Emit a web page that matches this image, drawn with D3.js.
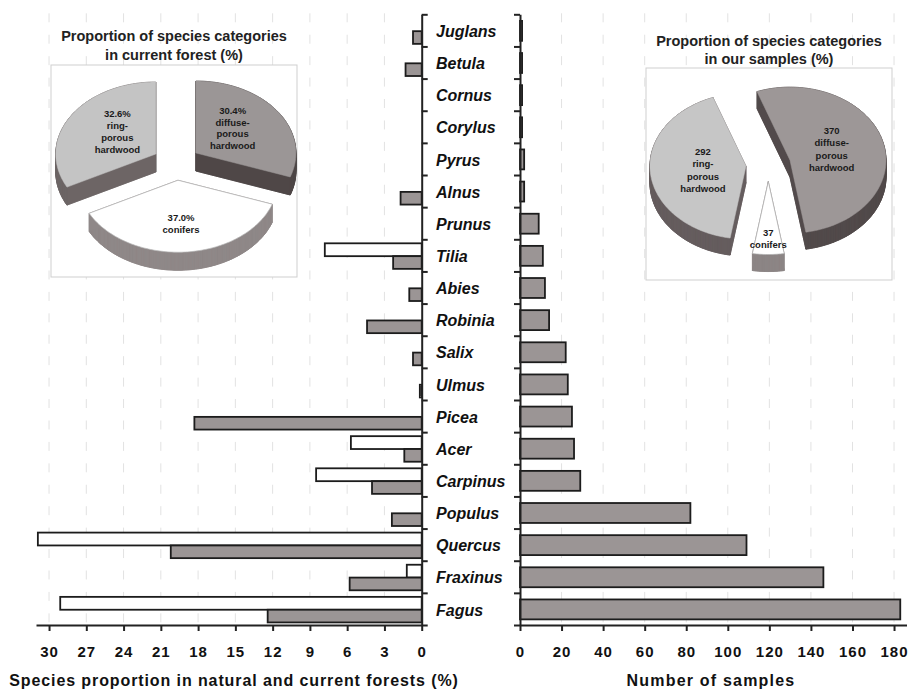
<!DOCTYPE html>
<html>
<head>
<meta charset="utf-8">
<script src="https://cdn.jsdelivr.net/npm/d3@7"></script>
<style>
  body { margin: 0; background: #fff; }
  svg text { font-family: "Liberation Sans", Arial, sans-serif; }
</style>
</head>
<body>
<svg id="chart" width="908" height="691"></svg>
<script>
// species, top to bottom
const species = ["Juglans","Betula","Cornus","Corylus","Pyrus","Alnus","Prunus","Tilia","Abies","Robinia",
  "Salix","Ulmus","Picea","Acer","Carpinus","Populus","Quercus","Fraxinus","Fagus"];
// % in natural forest (white) and current forest (grey)
const naturalForest = [0,0,0,0,0,0,0,7.8,0,0,0,0,0,5.7,8.5,0,30.9,1.2,29.1];
const currentForest = [0.7,1.3,0,0,0,1.7,0,2.3,1.0,4.4,0.7,0.15,18.3,1.4,4.0,2.4,20.2,5.8,12.4];
// number of samples
const samples = [1,1,1,1,2,2,9,11,12,14,22,23,25,26,29,82,109,146,183];

const leftTicks = [30,27,24,21,18,15,12,9,6,3,0];
const rightTicks = [0,20,40,60,80,100,120,140,160,180];

// pie categories (clockwise from 12 o'clock)
const pieLines = [["diffuse-","porous","hardwood"],["conifers"],["ring-","porous","hardwood"]];
const forestShare = [30.4, 37.0, 32.6];
const sampleCounts = [370, 37, 292];

const svg = d3.select('#chart');

const yTop = 14.3, yBottom = 625;
const y = d3.scaleBand().domain(species).range([yTop, yBottom]);
const yIdx = d3.scaleLinear().domain([0, species.length]).range([yTop, yBottom]);
const xL = d3.scaleLinear().domain([0, 31.05]).range([421.7, 36]);
const xR = d3.scaleLinear().domain([0, 186]).range([520, 906.5]);

const rows = species.map((s,i) => ({s, nat: naturalForest[i], cur: currentForest[i], n: samples[i]}));

// faint dashed grid
const grid = svg.append('g')
  .attr('stroke', '#e2e2e2')
  .attr('stroke-width', 1)
  .attr('stroke-dasharray', '9,12.43');

grid.selectAll('.gl')
  .data(leftTicks.filter(t => t > 0))
  .join('line')
  .attr('x1', d => xL(d)).attr('x2', d => xL(d))
  .attr('y1', yTop - 1).attr('y2', yBottom);

grid.selectAll('.gr')
  .data(rightTicks.filter(t => t > 0))
  .join('line')
  .attr('x1', d => xR(d)).attr('x2', d => xR(d))
  .attr('y1', yTop - 1).attr('y2', yBottom);

const step = y.step();
const barStroke = '#1c1c1c';
const grey = '#9b9595';

// left bars
svg.append('g').selectAll('rect')
  .data(rows.filter(d => d.nat > 0))
  .join('rect')
  .attr('x', d => xL(d.nat))
  .attr('y', d => y(d.s) + step * 0.125)
  .attr('width', d => xL(0) - xL(d.nat))
  .attr('height', step * 0.4)
  .attr('fill', '#fff')
  .attr('stroke', barStroke)
  .attr('stroke-width', 1.8);

svg.append('g').selectAll('rect')
  .data(rows.filter(d => d.cur > 0))
  .join('rect')
  .attr('x', d => xL(d.cur))
  .attr('y', d => y(d.s) + step * 0.525)
  .attr('width', d => xL(0) - xL(d.cur))
  .attr('height', step * 0.395)
  .attr('fill', grey)
  .attr('stroke', barStroke)
  .attr('stroke-width', 1.8);

// right bars
svg.append('g').selectAll('rect')
  .data(rows)
  .join('rect')
  .attr('x', xR(0))
  .attr('y', d => y(d.s) + step * 0.205)
  .attr('width', d => xR(d.n) - xR(0))
  .attr('height', step * 0.62)
  .attr('fill', grey)
  .attr('stroke', barStroke)
  .attr('stroke-width', 1.8);

// axes
const styleAxis = g => {
  g.select('.domain').attr('stroke', '#222').attr('stroke-width', 2);
  g.selectAll('.tick line').attr('stroke', '#222').attr('stroke-width', 2);
};

svg.append('g')
  .attr('transform', `translate(${xL(0)},0)`)
  .call(d3.axisRight(yIdx).tickValues(d3.range(species.length + 1)).tickSize(6).tickSizeOuter(0).tickFormat(''))
  .call(styleAxis);

svg.append('g')
  .attr('transform', `translate(${xR(0)},0)`)
  .call(d3.axisLeft(yIdx).tickValues(d3.range(species.length + 1)).tickSize(6).tickSizeOuter(0).tickFormat(''))
  .call(styleAxis);

const tickText = g => g.selectAll('.tick text')
  .attr('y', 31.7).attr('dy', 0)
  .attr('font-family', '"Liberation Sans", Arial, sans-serif')
  .attr('font-size', 15)
  .attr('font-weight', 'bold')
  .attr('letter-spacing', 1)
  .attr('fill', '#111');

svg.append('g')
  .attr('transform', `translate(0,${yBottom})`)
  .call(d3.axisBottom(xL).tickValues(leftTicks).tickSize(6).tickSizeOuter(0))
  .call(styleAxis)
  .call(tickText);

svg.append('g')
  .attr('transform', `translate(0,${yBottom})`)
  .call(d3.axisBottom(xR).tickValues(rightTicks).tickSize(6).tickSizeOuter(0))
  .call(styleAxis)
  .call(tickText);

// species names
svg.append('g').selectAll('text')
  .data(species)
  .join('text')
  .attr('x', 436)
  .attr('y', d => y(d) + step / 2 + 6.7)
  .attr('font-size', 16)
  .attr('font-weight', 'bold')
  .attr('font-style', 'italic')
  .attr('fill', '#111')
  .text(d => d);

// axis titles
svg.append('text')
  .attr('x', 234)
  .attr('y', 686)
  .attr('text-anchor', 'middle')
  .attr('font-size', 16)
  .attr('font-weight', 'bold')
  .attr('letter-spacing', 0.9)
  .attr('fill', '#111')
  .text('Species proportion in natural and current forests (%)');

svg.append('text')
  .attr('x', 711)
  .attr('y', 686)
  .attr('text-anchor', 'middle')
  .attr('font-size', 16)
  .attr('font-weight', 'bold')
  .attr('letter-spacing', 1.2)
  .attr('fill', '#111')
  .text('Number of samples');

// 3D exploded pies
const pie3d = (o) => {
  const g = svg.append('g');

  g.append('rect')
    .attr('x', o.box[0]).attr('y', o.box[1])
    .attr('width', o.box[2]).attr('height', o.box[3])
    .attr('fill', '#fff').attr('stroke', '#cfcfcf');

  g.selectAll('.ttl')
    .data(o.title)
    .join('text')
    .attr('x', o.box[0] + o.box[2] / 2)
    .attr('y', (d, i) => o.titleY[i])
    .attr('text-anchor', 'middle')
    .attr('font-family', 'Lato, "Open Sans", sans-serif')
    .attr('font-size', 14.5)
    .attr('font-weight', 'bold')
    .attr('fill', '#222')
    .text(d => d);

  const total = d3.sum(o.values);
  let rot = 0;
  if (o.frontIndex != null) {
    const before = d3.sum(o.values.slice(0, o.frontIndex));
    rot = Math.PI - 2 * Math.PI * (before + o.values[o.frontIndex] / 2) / total;
  }
  const arcs = d3.pie().sort(null).startAngle(rot).endAngle(rot + 2 * Math.PI)(o.values);
  const k = o.ry / o.rx;

  const slices = arcs.map((a, i) => {
    const m = (a.startAngle + a.endAngle) / 2;
    const cx = o.cx + o.explode * Math.sin(m);
    const cy = o.cy - o.explode * k * Math.cos(m);
    const n = Math.max(2, Math.ceil((a.endAngle - a.startAngle) / 0.02));
    const rim = d3.range(n + 1).map(j => {
      const t = a.startAngle + (a.endAngle - a.startAngle) * j / n;
      return [cx + o.rx * Math.sin(t), cy - o.ry * Math.cos(t)];
    });
    return {i, m, cx, cy, span: a.endAngle - a.startAngle, pts: [[cx, cy], ...rim], a};
  }).sort((p, q) => p.cy - q.cy);

  const line = d3.line().curve(d3.curveLinearClosed);

  slices.forEach(sl => {
    const sg = g.append('g');
    const col = o.colors[sl.i];
    const low = sl.pts.map(p => [p[0], p[1] + o.depth]);
    sg.append('path').attr('d', line(low)).attr('fill', col.side).attr('stroke', col.side).attr('stroke-width', 0.7);
    sg.selectAll('.q')
      .data(sl.pts.map((p, j) => [p, sl.pts[(j + 1) % sl.pts.length]]))
      .join('path')
      .attr('d', ([p, q]) => line([p, q, [q[0], q[1] + o.depth], [p[0], p[1] + o.depth]]))
      .attr('fill', col.side).attr('stroke', col.side).attr('stroke-width', 0.7);
    sg.append('path').attr('d', line(sl.pts))
      .attr('fill', col.top)
      .attr('stroke', col.edge || col.top)
      .attr('stroke-width', col.edge ? 0.7 : 0.5);
  });

  // labels
  slices.forEach(sl => {
    const f = sl.span < 0.6 ? [0.78, 0.78] : [0.45, 0.6];
    const lx = sl.cx + f[0] * o.rx * Math.sin(sl.m);
    const ly = sl.cy - f[1] * o.ry * Math.cos(sl.m);
    const lines = [o.fmt(o.values[sl.i]), ...pieLines[sl.i]];
    const lh = o.lineH;
    g.append('g').selectAll('text')
      .data(lines)
      .join('text')
      .attr('x', lx)
      .attr('y', (d, j) => ly + (j - (lines.length - 1) / 2) * lh + 3.4)
      .attr('text-anchor', 'middle')
      .attr('font-size', 9.5)
      .attr('font-weight', 'bold')
      .attr('fill', '#1a1a1a')
      .text(d => d);
  });
};

pie3d({
  values: forestShare,
  fmt: v => d3.format('.1f')(v) + '%',
  box: [51, 65, 246, 212],
  title: ['Proportion of species categories', 'in current forest (%)'],
  titleY: [40.7, 60],
  cx: 176.3, cy: 163, rx: 100, ry: 72, explode: 24, depth: 18,
  lineH: 11.7,
  colors: [
    {top: '#9b9696', side: '#4f4747'},
    {top: '#ffffff', side: '#8f8888', edge: '#b8b8b8'},
    {top: '#c4c4c4', side: '#6d6565'}
  ]
});

pie3d({
  values: sampleCounts,
  fmt: v => String(v),
  frontIndex: 1,
  box: [646, 68, 246, 212],
  title: ['Proportion of species categories', 'in our samples (%)'],
  titleY: [45.5, 64],
  cx: 768.3, cy: 164.5, rx: 96, ry: 73, explode: 22.4, depth: 17,
  lineH: 12.5,
  colors: [
    {top: '#9d9797', side: '#524a4b'},
    {top: '#ffffff', side: '#8c8585', edge: '#b0b0b0'},
    {top: '#c6c6c6', side: '#655d5e'}
  ]
});
</script>
</body>
</html>
